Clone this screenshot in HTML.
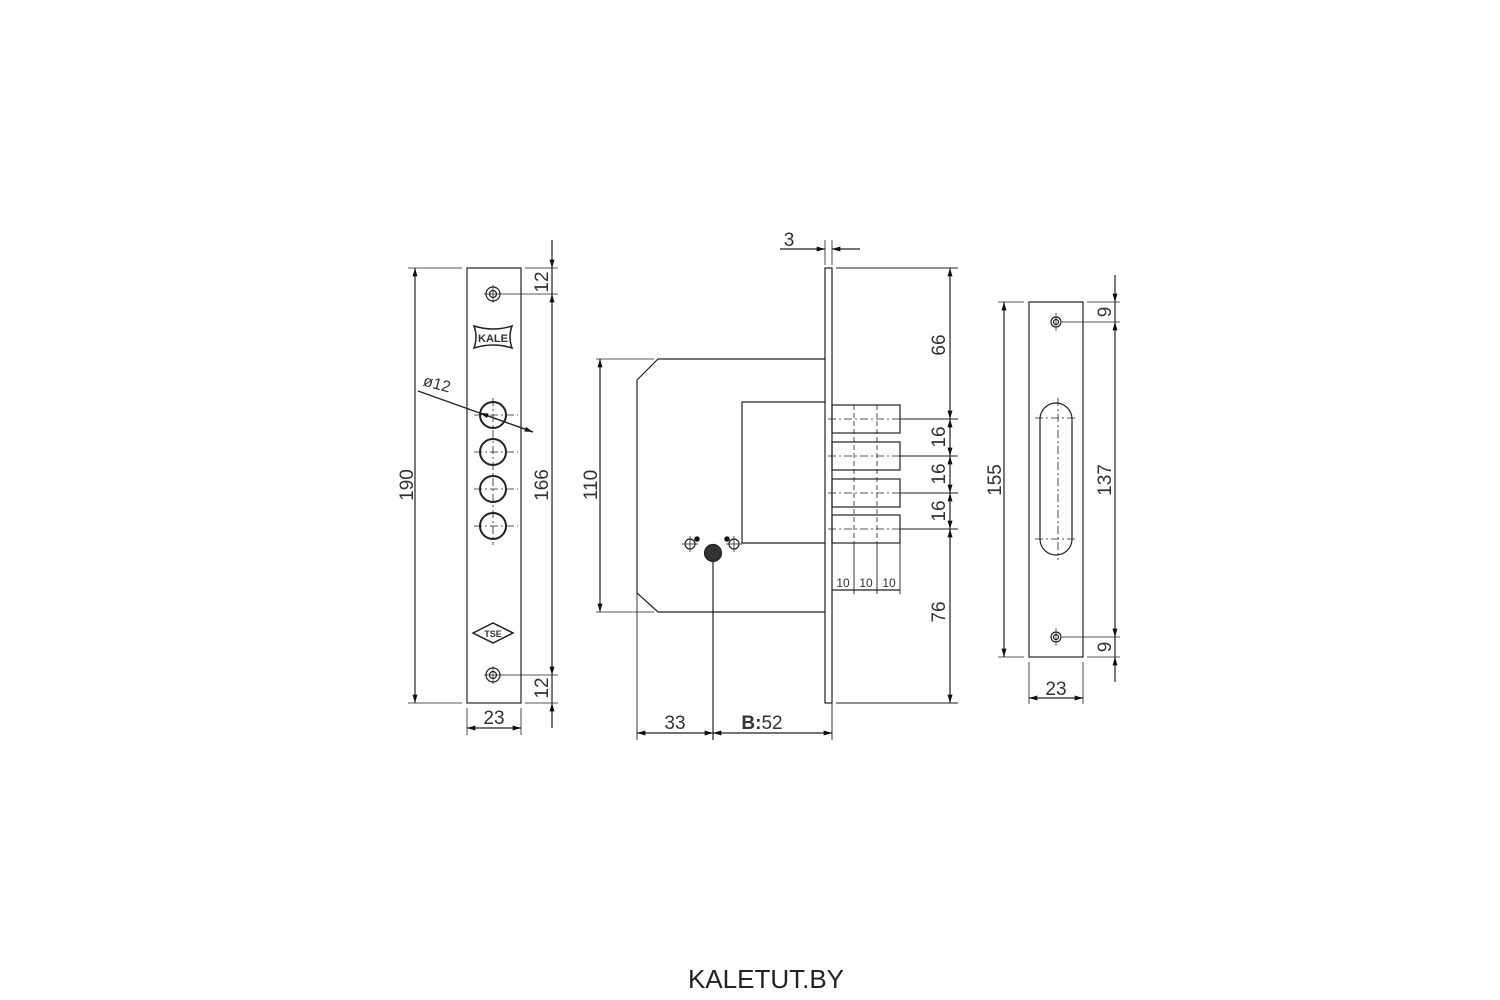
<!DOCTYPE html>
<html><head><meta charset="utf-8"><style>
html,body{margin:0;padding:0;background:#fff;}
svg{display:block}
text{font-family:"Liberation Sans",sans-serif;fill:#333}
</style></head><body>
<svg width="1500" height="1000" viewBox="0 0 1500 1000" xmlns="http://www.w3.org/2000/svg">
<defs>
<marker id="a" viewBox="0 0 10 6" refX="10" refY="3" markerWidth="9" markerHeight="5" orient="auto-start-reverse" markerUnits="userSpaceOnUse"><path d="M0,0L10,3L0,6z" fill="#111"/></marker>
</defs>
<g stroke="#222" stroke-width="1.2" fill="none">
<rect x="467" y="268" width="54" height="435"/>
<circle cx="493" cy="294" r="7"/><circle cx="493" cy="294" r="3.5"/>
<circle cx="493" cy="675" r="7"/><circle cx="493" cy="675" r="3.5"/>
<line x1="493" y1="285" x2="493" y2="303" stroke-width="0.7"/><line x1="484" y1="294" x2="502" y2="294" stroke-width="0.7"/>
<line x1="493" y1="666" x2="493" y2="684" stroke-width="0.7"/><line x1="484" y1="675" x2="502" y2="675" stroke-width="0.7"/>
<g stroke-width="2">
<circle cx="493" cy="415" r="13"/><circle cx="493" cy="452" r="13"/><circle cx="493" cy="489" r="13"/><circle cx="493" cy="526" r="13"/>
</g>
<g stroke-width="0.8" stroke-dasharray="8,3,2,3">
<line x1="493" y1="398" x2="493" y2="545"/>
<line x1="474" y1="415" x2="518" y2="415"/><line x1="474" y1="452" x2="518" y2="452"/><line x1="474" y1="489" x2="518" y2="489"/><line x1="474" y1="526" x2="518" y2="526"/>
</g>
<line x1="418" y1="391" x2="533" y2="432" marker-end="url(#a)"/>
<line x1="533" y1="432" x2="480" y2="413" marker-end="url(#a)"/>
<path d="M474,326 Q493,332 512,326 Q508,337 512,348 Q493,342 474,348 Q478,337 474,326z" stroke-width="1.5"/>
<path d="M473,633 L493,623 L513,633 L493,643z" stroke-width="1.5"/>
<line x1="408" y1="268" x2="462" y2="268" stroke-width="0.8"/><line x1="408" y1="703" x2="462" y2="703" stroke-width="0.8"/>
<line x1="415" y1="268" x2="415" y2="703" marker-start="url(#a)" marker-end="url(#a)"/>
<line x1="525" y1="268" x2="558" y2="268" stroke-width="0.8"/><line x1="525" y1="703" x2="558" y2="703" stroke-width="0.8"/>
<line x1="500" y1="294" x2="558" y2="294" stroke-width="0.8"/><line x1="500" y1="675" x2="558" y2="675" stroke-width="0.8"/>
<line x1="552" y1="240" x2="552" y2="268" marker-end="url(#a)"/>
<line x1="552" y1="294" x2="552" y2="675" marker-start="url(#a)" marker-end="url(#a)"/>
<line x1="552" y1="703" x2="552" y2="728" marker-start="url(#a)"/>
<line x1="552" y1="268" x2="552" y2="294"/>
<line x1="552" y1="675" x2="552" y2="703"/>
<line x1="467" y1="708" x2="467" y2="735" stroke-width="0.8"/><line x1="521" y1="708" x2="521" y2="735" stroke-width="0.8"/>
<line x1="467" y1="728" x2="521" y2="728" marker-start="url(#a)" marker-end="url(#a)"/>

<rect x="825" y="268" width="7" height="435"/>
<path d="M825,359 L658,359 L637,380 L637,593 L658,612 L825,612"/>
<path d="M825,402 L742,402 L742,543 L825,543"/>
<rect x="832" y="405" width="68" height="28"/>
<rect x="832" y="442" width="68" height="28"/>
<rect x="832" y="479" width="68" height="28"/>
<rect x="832" y="515" width="68" height="28"/>
<g stroke-width="0.8" stroke-dasharray="5,3">
<line x1="854" y1="405" x2="854" y2="543"/><line x1="877" y1="405" x2="877" y2="543"/>
</g>
<g stroke-width="0.8" stroke-dasharray="8,3,2,3">
<line x1="828" y1="419" x2="900" y2="419"/><line x1="828" y1="456" x2="900" y2="456"/><line x1="828" y1="493" x2="900" y2="493"/><line x1="828" y1="529" x2="900" y2="529"/>
</g>
<g stroke-width="1">
<line x1="900" y1="419" x2="958" y2="419"/><line x1="900" y1="456" x2="958" y2="456"/><line x1="900" y1="493" x2="958" y2="493"/><line x1="900" y1="529" x2="958" y2="529"/>
<line x1="836" y1="268" x2="958" y2="268"/><line x1="836" y1="703" x2="958" y2="703"/>
</g>
<line x1="950" y1="268" x2="950" y2="419" marker-start="url(#a)" marker-end="url(#a)"/>
<line x1="950" y1="419" x2="950" y2="456" marker-start="url(#a)" marker-end="url(#a)"/>
<line x1="950" y1="456" x2="950" y2="493" marker-start="url(#a)" marker-end="url(#a)"/>
<line x1="950" y1="493" x2="950" y2="529" marker-start="url(#a)" marker-end="url(#a)"/>
<line x1="950" y1="529" x2="950" y2="703" marker-start="url(#a)" marker-end="url(#a)"/>
<g stroke-width="0.9">
<line x1="832" y1="543" x2="832" y2="594"/><line x1="854" y1="543" x2="854" y2="594"/><line x1="877" y1="543" x2="877" y2="594"/><line x1="900" y1="543" x2="900" y2="594"/>
</g>
<line x1="832" y1="590" x2="900" y2="590" stroke-width="1.3"/>
<line x1="825" y1="240" x2="825" y2="265" stroke-width="0.8"/><line x1="832" y1="240" x2="832" y2="265" stroke-width="0.8"/>
<line x1="780" y1="249" x2="825" y2="249" marker-end="url(#a)"/>
<line x1="860" y1="249" x2="832" y2="249" marker-end="url(#a)"/>
<line x1="596" y1="359" x2="654" y2="359" stroke-width="0.8"/><line x1="596" y1="612" x2="654" y2="612" stroke-width="0.8"/>
<line x1="600" y1="359" x2="600" y2="612" marker-start="url(#a)" marker-end="url(#a)"/>
<circle cx="713" cy="553" r="8.5" fill="#333"/>
<line x1="713" y1="561" x2="713" y2="740"/>
<circle cx="690" cy="544" r="5"/><circle cx="734" cy="544" r="5"/>
<line x1="682" y1="544" x2="698" y2="544" stroke-width="0.8"/><line x1="690" y1="536" x2="690" y2="552" stroke-width="0.8"/>
<line x1="726" y1="544" x2="742" y2="544" stroke-width="0.8"/><line x1="734" y1="536" x2="734" y2="552" stroke-width="0.8"/>
<circle cx="697" cy="539" r="2.2" fill="#111"/><circle cx="727" cy="539" r="2.2" fill="#111"/>
<line x1="637" y1="593" x2="637" y2="740" stroke-width="0.9"/>
<line x1="832" y1="703" x2="832" y2="740" stroke-width="0.9"/>
<line x1="637" y1="733" x2="713" y2="733" marker-start="url(#a)" marker-end="url(#a)"/>
<line x1="713" y1="733" x2="832" y2="733" marker-start="url(#a)" marker-end="url(#a)"/>

<rect x="1029" y="302" width="54" height="355"/>
<circle cx="1056" cy="322" r="5"/><circle cx="1056" cy="322" r="2.5"/>
<circle cx="1056" cy="637" r="5"/><circle cx="1056" cy="637" r="2.5"/>
<line x1="1056" y1="313" x2="1056" y2="331" stroke-width="0.7"/><line x1="1056" y1="628" x2="1056" y2="646" stroke-width="0.7"/>
<rect x="1040" y="403" width="32" height="152" rx="16" ry="16"/>
<g stroke-width="0.8" stroke-dasharray="8,3,2,3">
<line x1="1058" y1="398" x2="1058" y2="560"/>
<line x1="1035" y1="418" x2="1077" y2="418"/><line x1="1035" y1="539" x2="1077" y2="539"/>
</g>
<line x1="998" y1="302" x2="1024" y2="302" stroke-width="0.8"/><line x1="998" y1="657" x2="1024" y2="657" stroke-width="0.8"/>
<line x1="1004" y1="302" x2="1004" y2="657" marker-start="url(#a)" marker-end="url(#a)"/>
<line x1="1087" y1="302" x2="1120" y2="302" stroke-width="0.8"/><line x1="1087" y1="657" x2="1120" y2="657" stroke-width="0.8"/>
<line x1="1062" y1="322" x2="1120" y2="322" stroke-width="0.8"/><line x1="1062" y1="637" x2="1120" y2="637" stroke-width="0.8"/>
<line x1="1115" y1="275" x2="1115" y2="302" marker-end="url(#a)"/>
<line x1="1115" y1="302" x2="1115" y2="322"/>
<line x1="1115" y1="322" x2="1115" y2="637" marker-start="url(#a)" marker-end="url(#a)"/>
<line x1="1115" y1="637" x2="1115" y2="657"/>
<line x1="1115" y1="657" x2="1115" y2="682" marker-start="url(#a)"/>
<line x1="1029" y1="662" x2="1029" y2="704" stroke-width="0.8"/><line x1="1083" y1="662" x2="1083" y2="704" stroke-width="0.8"/>
<line x1="1029" y1="698" x2="1083" y2="698" marker-start="url(#a)" marker-end="url(#a)"/>
</g>
<g font-size="19">
<text x="493" y="342" text-anchor="middle" font-size="11" font-weight="bold">KALE</text>
<text x="493" y="637" text-anchor="middle" font-size="9" font-weight="bold">TSE</text>
<text x="423" y="390" font-size="16" transform="rotate(15 440 385)">ø12</text>
<text transform="translate(413,485) rotate(-90)" text-anchor="middle">190</text>
<text transform="translate(548,485) rotate(-90)" text-anchor="middle">166</text>
<text transform="translate(548,282) rotate(-90)" text-anchor="middle">12</text>
<text transform="translate(548,688) rotate(-90)" text-anchor="middle">12</text>
<text x="494" y="724" text-anchor="middle">23</text>
<text x="789" y="246" text-anchor="middle">3</text>
<text transform="translate(597,485) rotate(-90)" text-anchor="middle">110</text>
<text transform="translate(945,345) rotate(-90)" text-anchor="middle">66</text>
<text transform="translate(945,437) rotate(-90)" text-anchor="middle">16</text>
<text transform="translate(945,474) rotate(-90)" text-anchor="middle">16</text>
<text transform="translate(945,511) rotate(-90)" text-anchor="middle">16</text>
<text transform="translate(945,612) rotate(-90)" text-anchor="middle">76</text>
<text x="843" y="587" text-anchor="middle" font-size="12">10</text>
<text x="866" y="587" text-anchor="middle" font-size="12">10</text>
<text x="889" y="587" text-anchor="middle" font-size="12">10</text>
<text x="675" y="729" text-anchor="middle">33</text>
<text x="762" y="729" text-anchor="middle"><tspan font-weight="bold">B:</tspan>52</text>
<text transform="translate(1001,480) rotate(-90)" text-anchor="middle">155</text>
<text transform="translate(1111,480) rotate(-90)" text-anchor="middle">137</text>
<text transform="translate(1111,312) rotate(-90)" text-anchor="middle">9</text>
<text transform="translate(1111,647) rotate(-90)" text-anchor="middle">9</text>
<text x="1056" y="695" text-anchor="middle">23</text>
</g>
<text x="766" y="988" text-anchor="middle" font-size="26" style="fill:#222">KALETUT.BY</text>
</svg>
</body></html>
